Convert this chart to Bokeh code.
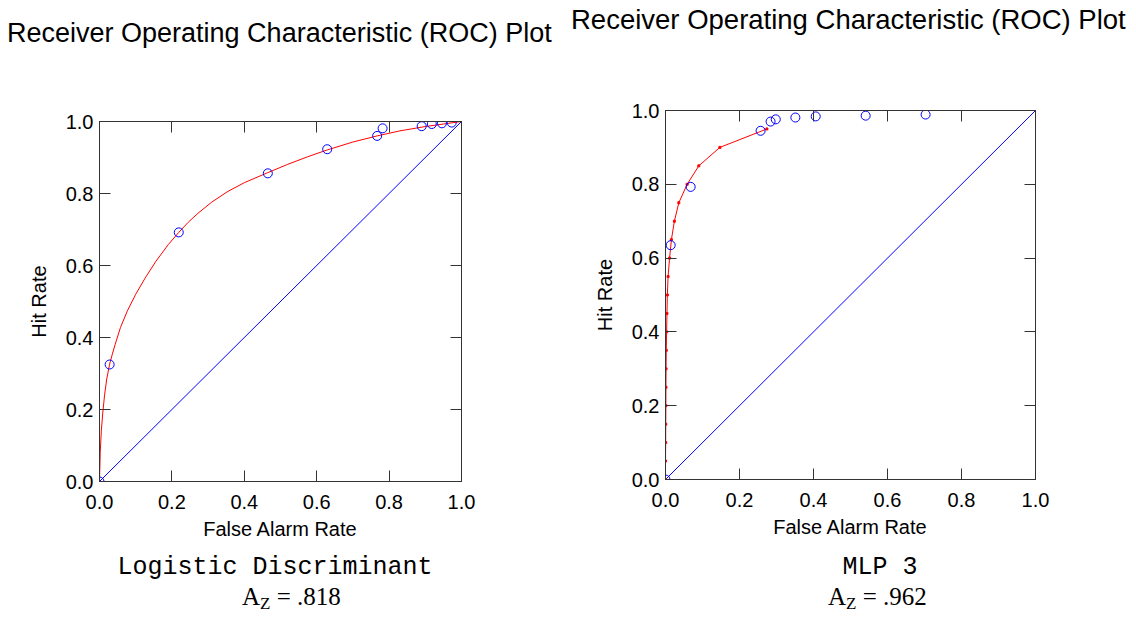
from bokeh.plotting import figure
from bokeh.models import (Range1d, LinearAxis, FixedTicker, NumeralTickFormatter,
                          CustomJSTickFormatter, Div)
from bokeh.layouts import row, column
from bokeh.embed import file_html
from bokeh.resources import INLINE

TITLE = "Receiver Operating Characteristic (ROC) Plot"
X_LABEL = "False Alarm Rate"
Y_LABEL = "Hit Rate"
TICKS = [0.0, 0.2, 0.4, 0.6, 0.8, 1.0]
DIAG = [0.0, 1.0]

# ---- Logistic Discriminant ----
ld_name = "Logistic Discriminant"
ld_az = ".818"
ld_far = [0.0, 0.028, 0.219, 0.465, 0.629, 0.767, 0.782, 0.890, 0.918, 0.946, 0.973]
ld_hit = [0.0, 0.325, 0.692, 0.856, 0.923, 0.960, 0.981, 0.987, 0.993, 0.995, 0.997]
ld_fit_far = [0.0, 0.002, 0.005, 0.009, 0.014, 0.020, 0.028, 0.035, 0.043, 0.058, 0.077,
              0.100, 0.126, 0.156, 0.190, 0.219, 0.245, 0.272, 0.310, 0.355, 0.400,
              0.465, 0.520, 0.575, 0.629, 0.700, 0.767, 0.830, 0.900, 0.950, 1.0]
ld_fit_hit = [0.0, 0.080, 0.140, 0.190, 0.240, 0.285, 0.326, 0.352, 0.380, 0.428, 0.474,
              0.520, 0.565, 0.612, 0.658, 0.692, 0.720, 0.745, 0.776, 0.806, 0.830,
              0.858, 0.881, 0.902, 0.921, 0.943, 0.960, 0.974, 0.986, 0.993, 1.0]

# ---- MLP 3 ----
mlp_name = "MLP 3"
mlp_az = ".962"
mlp_far = [0.0, 0.014, 0.068, 0.257, 0.284, 0.298, 0.351, 0.406, 0.541, 0.703]
mlp_hit = [0.0, 0.635, 0.793, 0.945, 0.970, 0.976, 0.981, 0.984, 0.986, 0.989]
mlp_fit_far = [0.0, 0.0, 0.0005, 0.0007, 0.001, 0.0012, 0.0015, 0.002, 0.003, 0.004,
               0.005, 0.007, 0.011, 0.016, 0.024, 0.036, 0.0585, 0.090, 0.147, 0.274]
mlp_fit_hit = [0.0, 0.05, 0.10, 0.15, 0.20, 0.25, 0.30, 0.35, 0.40, 0.45,
               0.50, 0.55, 0.60, 0.65, 0.70, 0.75, 0.80, 0.85, 0.90, 0.95]

AX = "#333333"
SANS = "Liberation Sans"
MONO = "Liberation Mono"
SERIF = "Liberation Serif"

# common vertical borders of both figures (px)
TOP_B = 50
BOT_B = 62


def style_axis(ax, show_labels, standoff=6, label_standoff=10):
    ax.ticker = FixedTicker(ticks=TICKS)
    ax.major_tick_in = 11
    ax.major_tick_out = 0
    ax.minor_tick_line_color = None
    ax.axis_line_color = AX
    ax.major_tick_line_color = AX
    if show_labels:
        ax.formatter = NumeralTickFormatter(format="0.0")
        ax.major_label_text_font = SANS
        ax.major_label_text_font_size = "20px"
        ax.major_label_text_color = "black"
        ax.major_label_standoff = standoff
        ax.axis_label_text_font = SANS
        ax.axis_label_text_font_size = "20px"
        ax.axis_label_text_font_style = "normal"
        ax.axis_label_text_color = "black"
        ax.axis_label_standoff = label_standoff
    else:
        ax.formatter = CustomJSTickFormatter(code="return ''")
        ax.major_label_standoff = 0


def make_fig(width, bl, fw, fh, far, hit, fit_far, fit_hit, vertices):
    height = TOP_B + fh + BOT_B
    p = figure(width=width, height=height, output_backend="svg", toolbar_location=None,
               x_range=Range1d(0, 1), y_range=Range1d(0, 1),
               min_border_left=bl, min_border_right=width - bl - fw,
               min_border_top=TOP_B, min_border_bottom=BOT_B,
               x_axis_label=X_LABEL, y_axis_label=Y_LABEL)
    p.xgrid.grid_line_color = None
    p.ygrid.grid_line_color = None
    p.outline_line_color = AX
    style_axis(p.xaxis[0], True, standoff=13, label_standoff=6)
    style_axis(p.yaxis[0], True, standoff=6, label_standoff=13)
    top = LinearAxis()
    right = LinearAxis()
    style_axis(top, False)
    style_axis(right, False)
    p.add_layout(top, "above")
    p.add_layout(right, "right")

    p.line(DIAG, DIAG, line_color="#0000ff", line_width=1)
    p.line(fit_far, fit_hit, line_color="#ff0000", line_width=1)
    if vertices:
        p.scatter(fit_far, fit_hit, marker="square", size=2, color="#ff0000")
    p.scatter(far, hit, marker="circle", size=9, fill_color=None,
              line_color="#0000ff", line_width=1)
    return p


def text_div(width, height, items):
    inner = "".join(
        f'<div style="position:absolute;left:{l}px;top:{t}px;white-space:nowrap;'
        f'line-height:1;color:black;{st}">{html}</div>'
        for (l, t, html, st) in items)
    return Div(text=f'<div style="position:relative;width:{width}px;height:{height}px;">'
                    f'{inner}</div>', width=width, height=height, margin=0)


def az_html(val):
    return f'A<span style="font-size:17px;vertical-align:-4px;">Z</span> = {val}'


def title_st(size):
    return f"font-family:'{SANS}';font-size:{size}px;"


NAME_ST = f"font-family:'{MONO}';font-size:25px;transform:translateX(-50%);"
AZ_ST = f"font-family:'{SERIF}';font-size:25px;"

# left panel (page px: frame 99..461 x 121..481)
W1 = 564
t1 = text_div(W1, 71, [(7, 20.4, TITLE, title_st(27))])
p1 = make_fig(W1, 99, 362, 360, ld_far, ld_hit, ld_fit_far, ld_fit_hit, False)
b1 = text_div(W1, 76, [(275, 11.8, ld_name, NAME_ST), (242, 41.1, az_html(ld_az), AZ_ST)])

# right panel (page px: frame 665..1035 x 110..479)
W2 = 570
t2 = text_div(W2, 60, [(7, 6.0, TITLE, title_st(27.5))])
p2 = make_fig(W2, 101, 370, 369, mlp_far, mlp_hit, mlp_fit_far, mlp_fit_hit, True)
b2 = text_div(W2, 78, [(316, 13.8, mlp_name, NAME_ST), (264, 43.1, az_html(mlp_az), AZ_ST)])

layout = row(column(t1, p1, b1, spacing=0), column(t2, p2, b2, spacing=0), spacing=0)
open("out.html", "w").write(file_html(layout, INLINE))
